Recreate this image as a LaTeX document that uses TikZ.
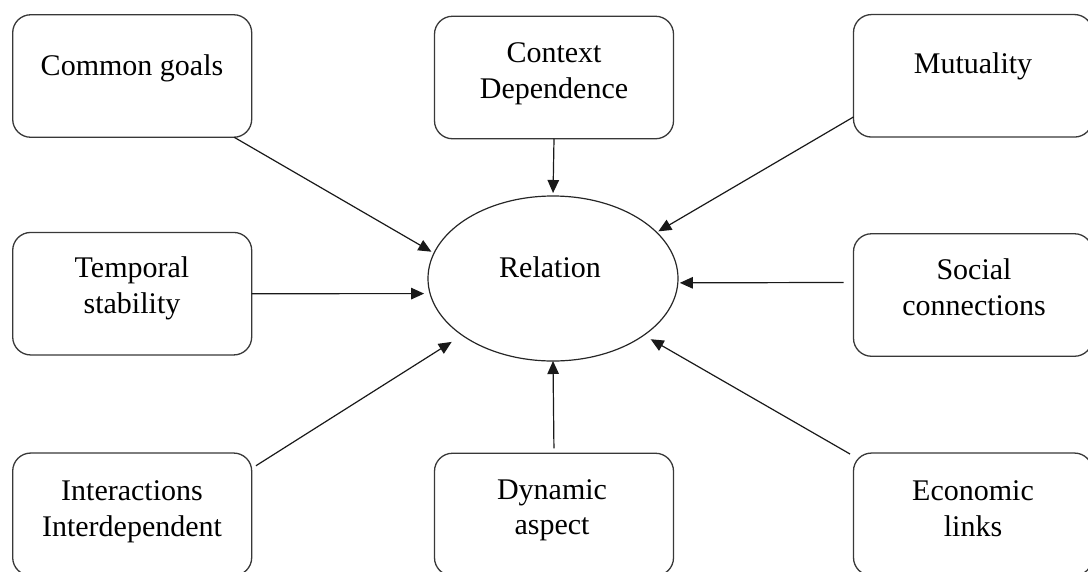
\documentclass[tikz,border=0pt]{standalone}
\usepackage{fontspec}
\setmainfont{Liberation Serif}
\usetikzlibrary{arrows.meta,shapes.geometric}
\begin{document}
\begin{tikzpicture}[x=1pt,y=-1pt,
  box/.style={draw=black!78, line width=1.3pt, rounded corners=18pt,
    minimum width=239pt, minimum height=122.5pt, inner sep=0pt, outer sep=0pt},
  hub/.style={draw=black!85, line width=1.2pt, ellipse,
    minimum width=250pt, minimum height=165pt, inner sep=0pt, outer sep=0pt},
  lbl/.style={font=\fontsize{30}{36}\selectfont, anchor=base, inner sep=0pt, text=black},
  link/.style={draw=black!90, line width=1.2pt, -{Triangle[length=13pt,width=11.5pt]}}]
\useasboundingbox (0,0) rectangle (1088,571);
\clip (0,0) rectangle (1088,571);

% factor boxes
\node[box] (cg)  at (132.2,76)   {};
\node[box] (ctx) at (554,77.5)   {};
\node[box] (mut) at (973,75.8)   {};
\node[box] (ts)  at (132.2,293.7) {};
\node[box] (sc)  at (973,295)    {};
\node[box] (ia)  at (132.2,514.3) {};
\node[box] (da)  at (554,514.5)  {};
\node[box] (ec)  at (973,514.3)  {};

% central concept
\node[hub] (rel) at (553,278.5) {};

% labels
\node[lbl] (cgt)  at (132,75)    {Common goals};
\node[lbl] (ctx1) at (554,62)    {Context};
\node[lbl] (ctx2) at (554,98)    {Dependence};
\node[lbl] (mutt) at (973,73.3)  {Mutuality};
\node[lbl] (ts1)  at (132,277.3) {Temporal};
\node[lbl] (ts2)  at (132,313.3) {stability};
\node[lbl] (relt) at (550,277.3) {Relation};
\node[lbl] (sc1)  at (974,279.3) {Social};
\node[lbl] (sc2)  at (974,315)   {connections};
\node[lbl] (ia1)  at (132,500)   {Interactions};
\node[lbl] (ia2)  at (132,536.7) {Interdependent};
\node[lbl] (da1)  at (552,499)   {Dynamic};
\node[lbl] (da2)  at (552,534)   {aspect};
\node[lbl] (ec1)  at (973,500)   {Economic};
\node[lbl] (ec2)  at (973,536.7) {links};

% influences on the relation
\draw[link, shorten >=3pt] (cg.-31) -- (rel.168);
\draw[link, shorten >=3pt] (ctx.south) -- (rel.north);
\draw[link, shorten >=2pt] (mut.199) -- (rel.24.6);
\draw[link, shorten >=6pt] (ts.east) -- (rel.187);
\draw[link, shorten <=10pt, shorten >=2pt] (sc.174.5) -- (rel.-2.3);
\draw[link, shorten <=5pt, shorten >=12.5pt] (ia.21) -- (rel.212.1);
\draw[link, shorten <=5pt] (da.north) -- (rel.south);
\draw[link, shorten <=4pt, shorten >=8pt] (ec.154.6) -- (rel.-32.6);
\end{tikzpicture}
\end{document}
